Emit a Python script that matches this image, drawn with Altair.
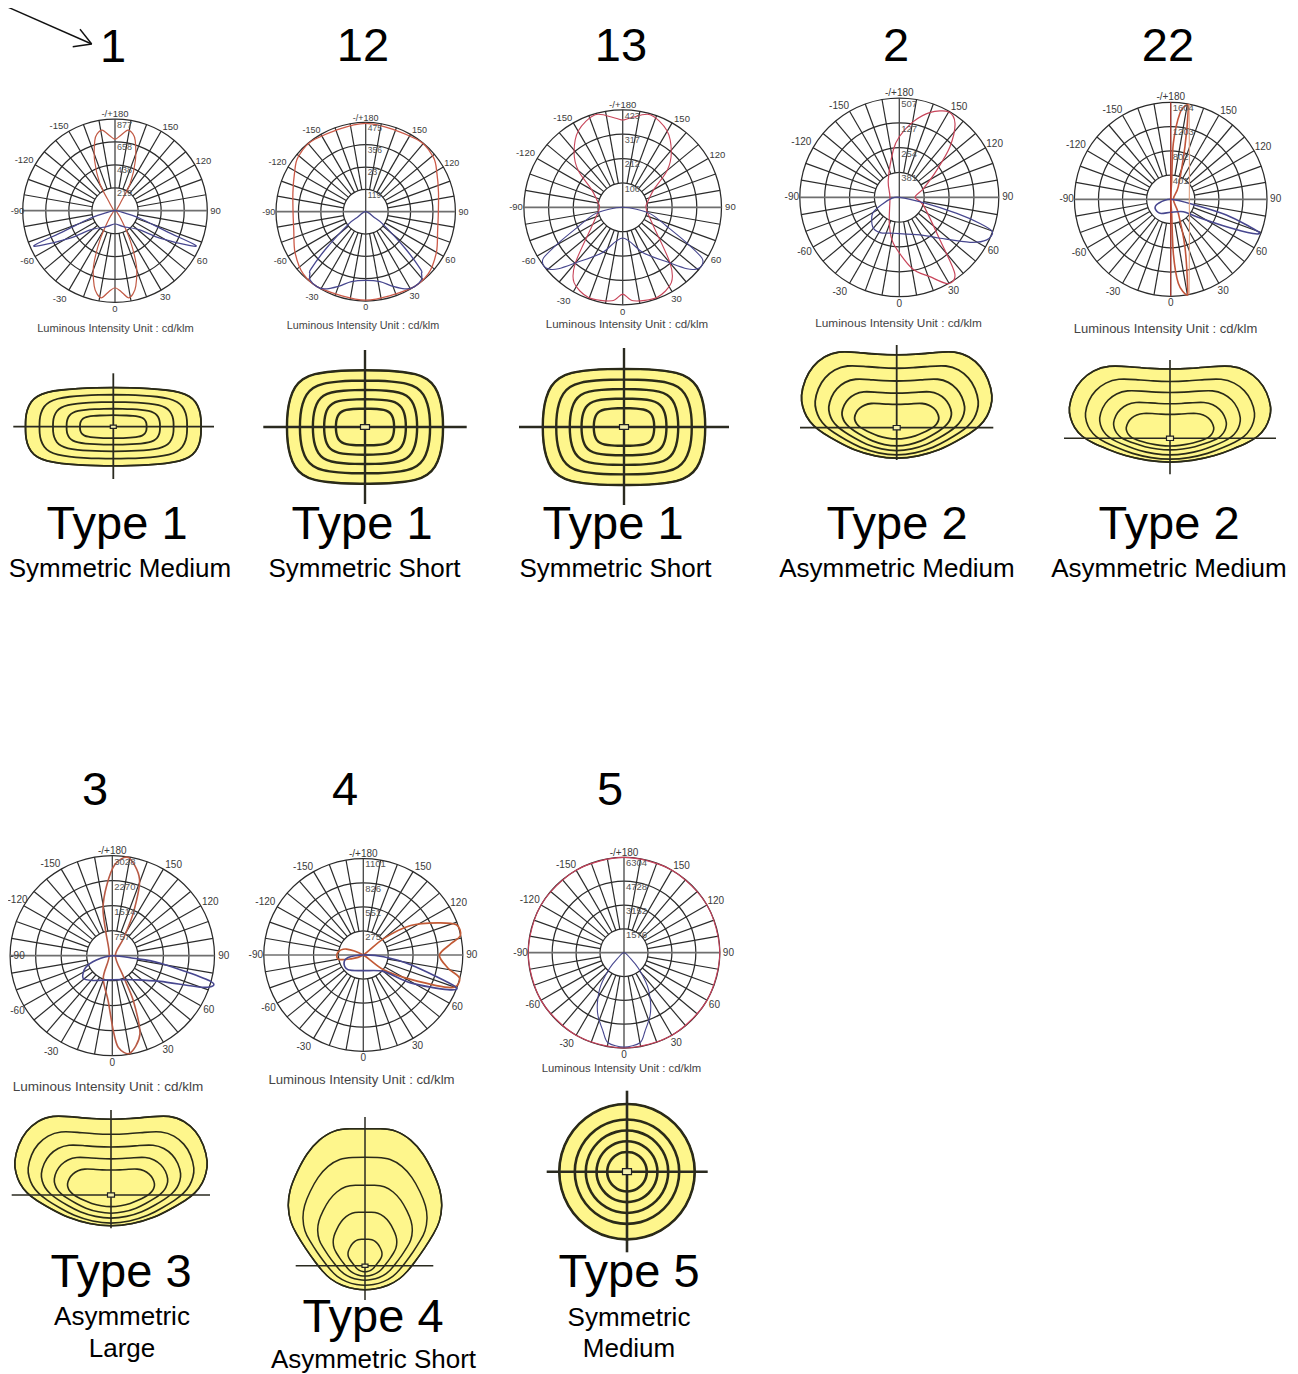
import math
import altair as alt
import pandas as pd

FONT = "Liberation Sans"
INK = "#2b2b2b"
BLUE = "#47478f"

# ---- polar curves: (angle in degrees, intensity as a fraction of the outer ring) ----
P1_RED = [(0,.84),(4,.88),(8.6,.96),(12,.93),(15.4,.85),(21,.65),(27,.36),(35,.12),(50,.03),(90,.015),(130,.03),(145,.10),(151,.34),(158,.59),(164,.795),(167,.86),(171,.89),(176,.82),(180,.78)]
P1_BLUE = [(0,.145),(27.5,.195),(52,.34),(58.4,.57),(65,.90),(66.8,.94),(67.9,.60),(73,.28),(80,.05),(90,0)]
P2_RED = [(0,.99),(30,.995),(45,.985),(60,.91),(75,.83),(90,.81),(105,.84),(118,.90),(129,.97),(145,.99),(180,.99)]
P2_BLUE = [(0,.77),(11.5,.80),(20,.89),(28,.98),(33,1.0),(39,.985),(42,.93),(43.5,.89),(47,.6),(54,.236),(56,.12),(90,0)]
P3_RED = [(0,.89),(6.5,.965),(20.5,.988),(32.5,.916),(40,.745),(57.8,.37),(80,.25),(90,.237),(96,.24),(119.5,.358),(130,.587),(139,.75),(150.4,.905),(163.7,.99),(175,.92),(180,.895)]
P3_BLUE = [(0,.315),(24.2,.513),(40,.745),(45.9,.906),(49,.97),(53,1.0),(57,.956),(60.6,.747),(66.3,.489),(76,.30),(82,.14),(90,0)]
P4_RED = [(150.2,.993),(143,.93),(135,.72),(126,.466),(110,.258),(90,.158),(72,.254),(43.6,.593),(36,.948),(29.5,1.0),(21,.856),(10,.725),(-7.4,.467),(-21,.28),(-90,.094),(-147.6,.207),(-172.8,.48),(180,.61),(169.5,.775),(160,.91)]
P4_BLUE = [(77.5,.247),(74.4,.6),(72,.853),(69.7,.998),(64,.978),(57.5,.843),(44.8,.581),(28.8,.432),(-9.5,.367),(-28.7,.405),(-42,.4),(-59,.313),(-69,.172),(-82,.077),(90,0)]
P5_RED = [(90,.028),(28.7,.165),(16.8,.51),(11,.92),(9.5,1.0),(5.2,.87),(2.8,.56),(4,.145),(0,.01),(177,.2),(177.3,.58),(173.8,.895),(170,.99),(168.8,.94),(164.8,.565),(149,.153)]
P5_BLUE = [(76.9,.258),(74.4,.6),(71,.868),(69.5,.986),(67.6,.925),(64,.645),(56.3,.323),(45.8,.183),(0,.134),(-37.3,.182),(-60,.187),(-72,.134),(90,0)]
P5_ORANGE = [(11,1.0),(30,.39),(60,.224),(90,.193),(120,.224),(150,.39),(169,1.0)]
P5_AXIS = [(0,1.0),(180,1.0)]
P6_RED = [(90,.03),(27.6,.235),(24.5,.5),(19,.83),(10,.99),(3.7,.92),(.75,.75),(-5,.457),(-21.6,.24),(-90,.03),(-165,.246),(-169,.477),(-175.4,.70),(178.3,.914),(170.8,.993),(160.8,.81),(154.5,.483),(147.6,.203)]
P6_BLUE = [(82.8,.21),(80.9,.478),(75,1.0),(70.6,.955),(61.4,.537),(40.8,.318),(0,.24),(-37,.31),(-52,.364),(-65.5,.287),(-74.5,.161),(90,0)]
P7_RED = [(129.8,.266),(122.7,.566),(114,.82),(108.5,.987),(101.8,.997),(97.7,.892),(90,.765),(81,.86),(76,.998),(69,.945),(62,.54),(53,.255),(90,0),(-110,.18),(-96,.257),(-81,.258),(-73,.142),(90,0)]
P7_BLUE = [(85,.205),(78,.487),(70.6,.974),(67,.922),(58.7,.557),(50,.265),(0,.163),(-45,.216),(-66,.212),(-80,.155),(90,0)]
P8_RED = [(0,1),(30,1),(60,1),(90,1),(120,1),(150,1),(180,1)]
P8_BLUE = [(0,.99),(10,.96),(15,.85),(22.3,.715),(28,.59),(35,.425),(42.5,.222),(48,.094),(90,0)]
CURVE_W = [1.2,1.3,1.1,1.2,1.6,1.6,1.7,1.1]

def mirror(half):
    return half + [(-a, r) for a, r in reversed(half[1:-1])]

# angle where the label sits, text, distance from the centre
ANGLE_LABELS = [(0,"0",1.07),(30,"30",1.09),(60,"60",1.09),(90,"90",1.09),(119.4,"120",1.1),(146.6,"150",1.09),(180,"-/+180",1.05),
                (-146.6,"-150",1.1),(-119.4,"-120",1.13),(-90,"-90",1.08),(-60,"-60",1.1),(-32,"-30",1.13)]

# cx, cy, rx, ry, ring labels, label size, red colour, curves
POLARS = [
    (115.0,210.7,92.3,91.7,["877","658","438","219"],9.5,"#c25a45",mirror(P1_RED),mirror(P1_BLUE)),
    (365.7,211.7,89.7,89.3,["475","356","237","119"],9,"#cc5a48",mirror(P2_RED),mirror(P2_BLUE)),
    (622.7,207.3,98.8,97.5,["423","317","212","106"],9.5,"#c8455a",mirror(P3_RED),mirror(P3_BLUE)),
    (899.3,197.3,99.5,99.3,["507","127","254","381"],10,"#c8455a",P4_RED,P4_BLUE),
    (1170.7,199.3,96.3,97.0,["1604","1203","802","401"],10,"#c2553a",P5_RED,P5_BLUE),
    (112.3,955.7,102.2,100.0,["3028","2270","1514","757"],10,"#b85a45",P6_RED,P6_BLUE),
    (363.3,955.0,99.5,96.3,["1101","826","551","275"],10,"#c25a35",P7_RED,P7_BLUE),
    (624.0,952.7,95.8,95.3,["6304","4728","3152","1576"],10,"#c8405a",mirror(P8_RED),mirror(P8_BLUE)),
]

UNIT_TEXT = ["Luminous Intensity Unit : cd/klm"] * 8
UNIT_X = [115.5,363,627,898.5,1165.5,108,361.5,621.5]
UNIT_Y = [329,326,325,323,329,1087,1080,1069]
UNIT_SIZE = [11.1,10.8,11.5,11.8,13,13.5,13.2,11.3]

# ---- isolux shapes: half outlines in unit coordinates (u across, v from top -1 to bottom +1) ----
ROUND_WIDE = [(0,-1),(.2,-.995),(.4,-.975),(.6,-.94),(.76,-.88),(.87,-.78),(.94,-.64),(.985,-.42),(1,-.2),(1,0),(1,.2),(.985,.42),(.94,.64),(.87,.78),(.76,.88),(.6,.94),(.4,.975),(.2,.995),(0,1)]
ROUND_SQUARE = [(0,-1),(.2,-1),(.4,-.985),(.66,-.94),(.8,-.85),(.9,-.71),(.96,-.5),(.99,-.28),(1,0),(.99,.28),(.96,.5),(.9,.71),(.8,.85),(.66,.94),(.4,.985),(.2,1),(0,1)]
KIDNEY = [(0,-.956),(.2,-.965),(.4,-.99),(.61,-1.01),(.76,-.94),(.88,-.81),(.96,-.64),(1.005,-.41),(.985,-.28),(.95,-.15),(.87,-.02),(.77,.18),(.62,.45),(.45,.73),(.22,.94),(0,1.02)]
TALL = [(0,-1.01),(.2,-1.01),(.41,-1),(.6,-.93),(.76,-.83),(.89,-.69),(.985,-.56),(1.01,-.44),(.975,-.32),(.9,-.24),(.78,-.13),(.64,-.02),(.55,.25),(.46,.55),(.3,.85),(.13,.99),(0,1.02)]
DISC = [(0,-1),(.26,-.966),(.5,-.866),(.707,-.707),(.866,-.5),(.966,-.26),(1,0),(.966,.26),(.866,.5),(.707,.707),(.5,.866),(.26,.966),(0,1)]

# cx, cy, outline, contours (half width, top, bottom), line width, h-line, v-line, box half size
ISOLUX = [
    (113.3,426.7,ROUND_WIDE,[(87.8,39.2,39.2),(73.8,32,32),(60.3,24.7,24.7),(46.7,18,18),(33.3,11.5,11.5)],1.8,(13.3,214),(373.3,479),(3,1.6)),
    (365,427,ROUND_SQUARE,[(78.3,56.7,56.7),(65.3,46.3,46.3),(52.3,37,37),(41,27.7,27.7),(29.2,18.3,18.3)],2.4,(263.3,466.7),(350,504),(4.5,2.4)),
    (624,427,ROUND_SQUARE,[(81.5,58,58),(68,47.4,47.4),(54.4,37.9,37.9),(42.6,28.3,28.3),(30.3,18.8,18.8)],2.4,(519,729),(348,505),(4.5,2.4)),
    (896.7,427.7,KIDNEY,[(95.7,76,30.7),(82,62,27.3),(68.3,48.7,23),(55,36,18.3),(42.3,24.3,11.3)],1.8,(800,993.3),(345,460),(3.5,2.2)),
    (1170,438.3,KIDNEY,[(101.2,72.3,24),(85,59.3,21),(70.7,47.7,16.7),(56.7,36,11.7),(44,25,7.7)],1.6,(1064,1276),(360,474.3),(3.5,2.2)),
    (111,1195,KIDNEY,[(96.7,79,31),(83.3,63.3,28.3),(70,50,23.3),(57,37.7,18.3),(43.7,26,11.7)],1.6,(11.7,210),(1110,1228.3),(3.5,2.2)),
    (365,1265.7,TALL,[(76.7,135.7,23.7),(62,107.3,19.3),(47.3,79.7,14.3),(31.8,53,10.3),(17,26.3,6)],1.5,(295.7,433.3),(1117,1300),(3,1.6)),
    (627,1171.7,DISC,[(68.5,68.5,68.5),(52.8,52.8,52.8),(41.7,41.7,41.7),(30.8,30.8,30.8),(20,20,20)],2.6,(546.7,707.7),(1090.7,1252.3),(4.5,3)),
]

BIG_NUMBERS = ["1","12","13","2","22","3","4","5"]
NUMBER_X = [113,363,621,896,1168,95,345,610]
NUMBER_Y = [47.5,46.5,46.5,46.5,46.5,791,791,791]
TYPE_TEXT = ["Type 1","Type 1","Type 1","Type 2","Type 2","Type 3","Type 4","Type 5"]
TYPE_X = [117,362,613,897,1169,121,373,629]
TYPE_Y = [525,525,525,525,525,1273,1318,1273]
SUB_TEXT = ["Symmetric Medium","Symmetric Short","Symmetric Short","Asymmetric Medium","Asymmetric Medium","Asymmetric","Large","Asymmetric Short","Symmetric","Medium"]
SUB_X = [120,364.5,615.5,897,1169,122,122,373.5,629,629]
SUB_Y = [569,569,569,569,569,1317,1349,1359.5,1318,1349]
ARROW_X = [8.3,80,72.7]
ARROW_Y = [7.3,29.3,46.7]
ARROW_TIP = (91.7,44)

# ---- tables ----
lines_grid, spokes, curves, small, fills, outlines, cross, boxes = [], [], [], [], [], [], [], []

def pol(cx, cy, rx, ry, a, r):
    t = math.radians(a)
    return cx + rx * r * math.sin(t), cy + ry * r * math.cos(t)

gid = 0
for (cx, cy, rx, ry, rings, fs, red, rc, bc), cw in zip(POLARS, CURVE_W):
    gid += 1
    for k in (1, 2, 3, 4):
        for i, a in enumerate(range(0, 360, 10)):
            x, y = pol(cx, cy, rx, ry, a, k / 4)
            lines_grid.append(dict(g=f"{gid}-{k}", s=i, x=x, y=y))
    for a in range(0, 360, 10):
        if a % 90 == 0:
            continue
        x, y = pol(cx, cy, rx, ry, a, .25)
        x2, y2 = pol(cx, cy, rx, ry, a, 1)
        spokes.append(dict(x=x, y=y, x2=x2, y2=y2, c=INK, w=1.2))
    spokes.append(dict(x=cx - rx, y=cy, x2=cx + rx, y2=cy, c="#6f6f6f", w=1.7))
    spokes.append(dict(x=cx, y=cy - ry, x2=cx, y2=cy + ry, c="#444444", w=1.3))
    for name, col, pts in (("r", red, rc), ("b", BLUE, bc)):
        for i, (a, r) in enumerate(pts):
            x, y = pol(cx, cy, rx, ry, a, r)
            curves.append(dict(g=f"{gid}{name}", s=i, x=x, y=y, c=col, w=cw))
    for a, lab, rr in ANGLE_LABELS:
        x, y = pol(cx, cy, rx, ry, a, rr)
        small.append(dict(x=max(x, 17.5), y=y, t=lab, z=fs, al="center"))
    for k, lab in enumerate(rings):
        small.append(dict(x=cx + 2, y=cy - ry * (.94 - k * .25), t=lab, z=fs - .5, al="left"))

extra = []
cx5, cy5, rx5, ry5 = POLARS[4][:4]
for i, (a, r) in enumerate(P5_ORANGE):
    x, y = pol(cx5, cy5, rx5, ry5, a, r)
    extra.append(dict(g="o", s=i, x=x, y=y, c="#e0a080"))
for i, (a, r) in enumerate(P5_AXIS):
    x, y = pol(cx5, cy5, rx5, ry5, a, r)
    extra.append(dict(g="ax", s=i, x=x, y=y, c="#b83a30"))

for n, (cx, cy, shape, conts, lw, hl, vl, bh) in enumerate(ISOLUX):
    full = shape + [(-u, v) for u, v in reversed(shape[1:-1])]
    for m, (hw, top, bot) in enumerate(conts):
        for i, (u, v) in enumerate(full):
            row = dict(g=f"{n}-{m}", s=i, x=cx + u * hw, y=cy + (v * top if v < 0 else v * bot), w=lw)
            outlines.append(row)
            if m == 0:
                fills.append(row)
    cross.append(dict(x=hl[0], y=cy, x2=hl[1], y2=cy, w=lw))
    cross.append(dict(x=cx, y=vl[0], x2=cx, y2=vl[1], w=lw))
    boxes.append(dict(x=cx - bh[0], x2=cx + bh[0], y=cy - bh[1], y2=cy + bh[1]))

arrow = [dict(x=ax, y=ay, x2=ARROW_TIP[0], y2=ARROW_TIP[1]) for ax, ay in zip(ARROW_X, ARROW_Y)]
patch = [dict(x=540, x2=715, y=330, y2=338)]

# ---- encodings ----
xs = alt.Scale(domain=[8, 1290], nice=False, zero=False)
ys = alt.Scale(domain=[1374, 8], nice=False, zero=False)
X = alt.X("x:Q", scale=xs, axis=None)
Y = alt.Y("y:Q", scale=ys, axis=None)
X2 = alt.X2("x2:Q")
Y2 = alt.Y2("y2:Q")
W = alt.StrokeWidth("w:Q", scale=None)
C = alt.Color("c:N", scale=None)
D = lambda rows: alt.Data(values=rows)

grid = alt.Chart(D(lines_grid)).mark_line(interpolate="cardinal-closed", color=INK, strokeWidth=1.25).encode(
    x=X, y=Y, detail="g:N", order="s:Q")
spk = alt.Chart(D(spokes)).mark_rule().encode(x=X, y=Y, x2=X2, y2=Y2, color=C, strokeWidth=W)
crv = alt.Chart(D(curves)).mark_line(interpolate="cardinal-closed", tension=0.1).encode(
    x=X, y=Y, detail="g:N", order="s:Q", color=C, strokeWidth=W)
ext = alt.Chart(D(extra)).mark_line(strokeWidth=1.1).encode(x=X, y=Y, detail="g:N", order="s:Q", color=C)
lab_c = alt.Chart(D([r for r in small if r["al"] == "center"])).mark_text(font=FONT, color="#3a3a3a", align="center", baseline="middle").encode(
    x=X, y=Y, text="t:N", size=alt.Size("z:Q", scale=None))
lab_l = alt.Chart(D([r for r in small if r["al"] == "left"])).mark_text(font=FONT, color="#555555", align="left", baseline="middle").encode(
    x=X, y=Y, text="t:N", size=alt.Size("z:Q", scale=None))
unit = alt.Chart(D([dict(x=a, y=b, t=c, z=d) for a, b, c, d in zip(UNIT_X, UNIT_Y, UNIT_TEXT, UNIT_SIZE)])).mark_text(
    font=FONT, color="#444444", align="center", baseline="middle").encode(x=X, y=Y, text="t:N", size=alt.Size("z:Q", scale=None))
cover = alt.Chart(D(patch)).mark_rect(color="white").encode(x=X, x2=X2, y=Y, y2=Y2)
fill = alt.Chart(D(fills)).mark_line(interpolate="basis-closed", fill="#FEF68C", stroke="#2a2a18", strokeWidth=1.5).encode(
    x=X, y=Y, detail="g:N", order="s:Q")
outl = alt.Chart(D(outlines)).mark_line(interpolate="basis-closed", stroke="#2a2a18").encode(
    x=X, y=Y, detail="g:N", order="s:Q", strokeWidth=W)
crs = alt.Chart(D(cross)).mark_rule(color="#2a2a20").encode(x=X, y=Y, x2=X2, y2=Y2, strokeWidth=W)
box = alt.Chart(D(boxes)).mark_rect(fill="#f4f0b0", stroke="#222222", strokeWidth=1.2).encode(x=X, x2=X2, y=Y, y2=Y2)
arr = alt.Chart(D(arrow)).mark_rule(color="#111111", strokeWidth=1.4).encode(x=X, y=Y, x2=X2, y2=Y2)

def big(xv, yv, tv, size):
    rows = [dict(x=a, y=b, t=c) for a, b, c in zip(xv, yv, tv)]
    return alt.Chart(D(rows)).mark_text(font=FONT, fontSize=size, color="#000000", align="center", baseline="middle").encode(
        x=X, y=Y, text="t:N")

chart = alt.layer(
    grid, spk, crv, ext, lab_c, lab_l, unit, cover, fill, outl, crs, box, arr,
    big(NUMBER_X, NUMBER_Y, BIG_NUMBERS, 47),
    big(TYPE_X, TYPE_Y, TYPE_TEXT, 47),
    big(SUB_X, SUB_Y, SUB_TEXT, 26),
).properties(width=1282, height=1366, padding=0, autosize=alt.AutoSizeParams(type="none")).configure_view(stroke=None)

chart.save("out.html", embed_options={"renderer": "svg", "actions": False})
